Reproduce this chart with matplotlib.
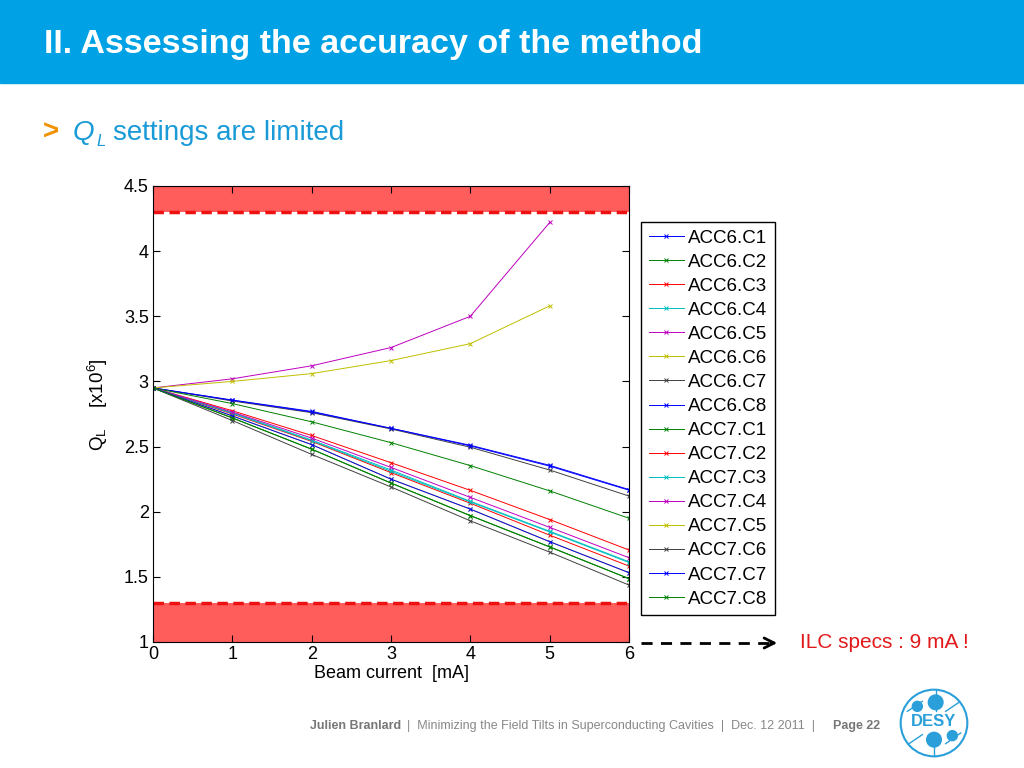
# Importing necessary libraries
import numpy as np
import matplotlib.pyplot as plt
from matplotlib.patches import Rectangle, Circle

plt.rcParams['font.family'] = ['Liberation Sans', 'DejaVu Sans']

# Data
beam_current = [0, 1, 2, 3, 4, 5, 6]
names = ['ACC6.C1', 'ACC6.C2', 'ACC6.C3', 'ACC6.C4', 'ACC6.C5', 'ACC6.C6', 'ACC6.C7', 'ACC6.C8',
         'ACC7.C1', 'ACC7.C2', 'ACC7.C3', 'ACC7.C4', 'ACC7.C5', 'ACC7.C6', 'ACC7.C7', 'ACC7.C8']
acc6_c1 = [2.95, 2.857, 2.77, 2.64, 2.51, 2.356, 2.17]
acc6_c2 = [2.95, 2.72, 2.48, 2.22, 1.97, 1.73, 1.486]
acc6_c3 = [2.95, 2.775, 2.585, 2.376, 2.164, 1.94, 1.706]
acc6_c4 = [2.95, 2.76, 2.55, 2.32, 2.08, 1.85, 1.616]
acc6_c5 = [2.95, 3.02, 3.12, 3.26, 3.50, 4.22]
acc6_c6 = [2.95, 3.00, 3.06, 3.16, 3.29, 3.58]
acc6_c7 = [2.95, 2.85, 2.76, 2.635, 2.495, 2.32, 2.12]
acc6_c8 = [2.95, 2.855, 2.765, 2.64, 2.505, 2.35, 2.165]
acc7_c1 = [2.95, 2.83, 2.69, 2.53, 2.354, 2.16, 1.95]
acc7_c2 = [2.95, 2.75, 2.54, 2.30, 2.065, 1.82, 1.583]
acc7_c3 = [2.95, 2.755, 2.545, 2.31, 2.075, 1.845, 1.61]
acc7_c4 = [2.95, 2.765, 2.565, 2.34, 2.11, 1.88, 1.647]
acc7_c5 = [2.95, 2.735, 2.515, 2.25, 2.02, 1.77, 1.532]
acc7_c6 = [2.95, 2.70, 2.44, 2.19, 1.93, 1.69, 1.437]
acc7_c7 = [2.95, 2.735, 2.515, 2.25, 2.02, 1.77, 1.532]
acc7_c8 = [2.95, 2.72, 2.48, 2.22, 1.97, 1.73, 1.486]
series = [acc6_c1, acc6_c2, acc6_c3, acc6_c4, acc6_c5, acc6_c6, acc6_c7, acc6_c8,
          acc7_c1, acc7_c2, acc7_c3, acc7_c4, acc7_c5, acc7_c6, acc7_c7, acc7_c8]

# Q_L limits (red bands)
ql_min, ql_max = 1.3, 4.3
y_ticks = [1, 1.5, 2, 2.5, 3, 3.5, 4, 4.5]
y_tick_labels = ['1', '1.5', '2', '2.5', '3', '3.5', '4', '4.5']

# old matlab color order
matlab_colors = [(0, 0, 1), (0, 0.5, 0), (1, 0, 0), (0, 0.75, 0.75),
                 (0.75, 0, 0.75), (0.75, 0.75, 0), (0.25, 0.25, 0.25)]

fig = plt.figure(figsize=(10.24, 7.68), dpi=100)

# Slide header
fig.patches.append(Rectangle((0, 1 - 83/768), 1, 83/768, transform=fig.transFigure,
                             color='#00A2E5', zorder=0))
fig.text(44/1024, 1 - 44/768, 'II. Assessing the accuracy of the method', color='white',
         fontsize=24.5, fontweight='bold', va='center', ha='left')
fig.text(43/1024, 1 - 133/768, '>', color='#F39200', fontsize=20, fontweight='bold',
         va='center', ha='left')
fig.text(73/1024, 1 - 133/768, 'Q', color='#1A9BD7', fontsize=20, style='italic',
         va='center', ha='left')
fig.text(96/1024, 1 - 142/768, 'L', color='#1A9BD7', fontsize=12, style='italic',
         va='center', ha='left')
fig.text(113/1024, 1 - 133/768, 'settings are limited', color='#1A9BD7', fontsize=20,
         va='center', ha='left')

# Main plot
ax = fig.add_axes([153/1024, 1 - 642/768, 476/1024, 456/768])
ax.axhspan(ql_max, 4.5, color='#FF5C5C', lw=0, zorder=0)
ax.axhspan(1, ql_min, color='#FF5C5C', lw=0, zorder=0)
ax.plot([0, 6.04], [ql_max, ql_max], color='#EE1111', lw=2.5, ls=(0, (3, 1.6)), clip_on=False)
ax.plot([0, 6.04], [ql_min, ql_min], color='#EE1111', lw=2.5, ls=(0, (3, 1.6)), clip_on=False)

for i, (name, ys) in enumerate(zip(names, series)):
    ax.plot(beam_current[:len(ys)], ys, '-x', color=matlab_colors[i % 7], lw=0.7, ms=3.5,
            mew=0.7, label=name)

ax.set_xlim(0, 6)
ax.set_ylim(1, 4.5)
ax.set_xticks(beam_current)
ax.set_yticks(y_ticks)
ax.set_yticklabels(y_tick_labels)
ax.tick_params(direction='in', top=True, right=True, labelsize=13, length=5, width=0.8, pad=3)
ax.set_xlabel('Beam current  [mA]', fontsize=13, labelpad=1)
fig.text(98/1024, 1 - 405/768, r'$\mathregular{Q_L}$    [x10$^\mathregular{6}$]', fontsize=13.5,
         rotation=90, va='center', ha='center')

fig.legend(loc='upper left', bbox_to_anchor=(641/1024, 1 - 222/768), borderaxespad=0,
           fontsize=13.5, frameon=True, fancybox=False, edgecolor='black', framealpha=1,
           handlelength=1.9, labelspacing=0.37, borderpad=0.4, handletextpad=0.2)

# Arrow to ILC specs
fig.add_artist(plt.Line2D([641/1024, 772/1024], [1 - 643/768, 1 - 643/768], color='black',
                          lw=2, ls=(0, (4, 3))))
ax.annotate('', xy=(780/1024, 1 - 643/768), xytext=(768/1024, 1 - 643/768),
            xycoords='figure fraction',
            arrowprops=dict(arrowstyle='->', color='black', lw=2, mutation_scale=18))
fig.text(800/1024, 1 - 643/768, 'ILC specs : 9 mA !', color='#E2191B', fontsize=15,
         va='center', ha='left')

# Footer
foot_y = 1 - 726/768
fig.text(310/1024, foot_y, 'Julien Branlard', color='#777777', fontsize=9, fontweight='bold',
         va='center')
fig.text(407/1024, foot_y, '|  Minimizing the Field Tilts in Superconducting Cavities  |  Dec. 12 2011  |',
         color='#888888', fontsize=9, va='center')
fig.text(833/1024, foot_y, 'Page 22', color='#777777', fontsize=9, fontweight='bold', va='center')

# DESY logo
lax = fig.add_axes([894/1024, 1 - 763/768, 80/1024, 80/768])
lax.set_xlim(-1.2, 1.2)
lax.set_ylim(-1.2, 1.2)
lax.set_aspect('equal')
lax.axis('off')
desy_blue = '#2A9FDA'
lax.add_patch(Circle((0, 0), 1.0, fill=False, ec=desy_blue, lw=1.5))
lax.plot([0.05, 0.05], [0.35, 1.0], color=desy_blue, lw=1)
lax.plot([0.0, 0.0], [-0.3, -1.0], color=desy_blue, lw=1)
lax.plot([-0.8, -0.35], [0.35, 0.65], color=desy_blue, lw=1)
lax.plot([0.35, 0.75], [0.35, 0.62], color=desy_blue, lw=1)
lax.plot([-0.75, -0.35], [-0.62, -0.35], color=desy_blue, lw=1)
lax.plot([0.35, 0.8], [-0.62, -0.3], color=desy_blue, lw=1)
lax.add_patch(Circle((0.05, 0.62), 0.22, color=desy_blue))
lax.add_patch(Circle((0.0, -0.5), 0.22, color=desy_blue))
lax.add_patch(Circle((-0.5, 0.5), 0.15, color=desy_blue))
lax.add_patch(Circle((0.55, -0.38), 0.15, color=desy_blue))
lax.text(0, 0.04, 'DESY', color=desy_blue, fontsize=12, fontweight='bold', ha='center', va='center')

plt.savefig('out.png', dpi=100)
